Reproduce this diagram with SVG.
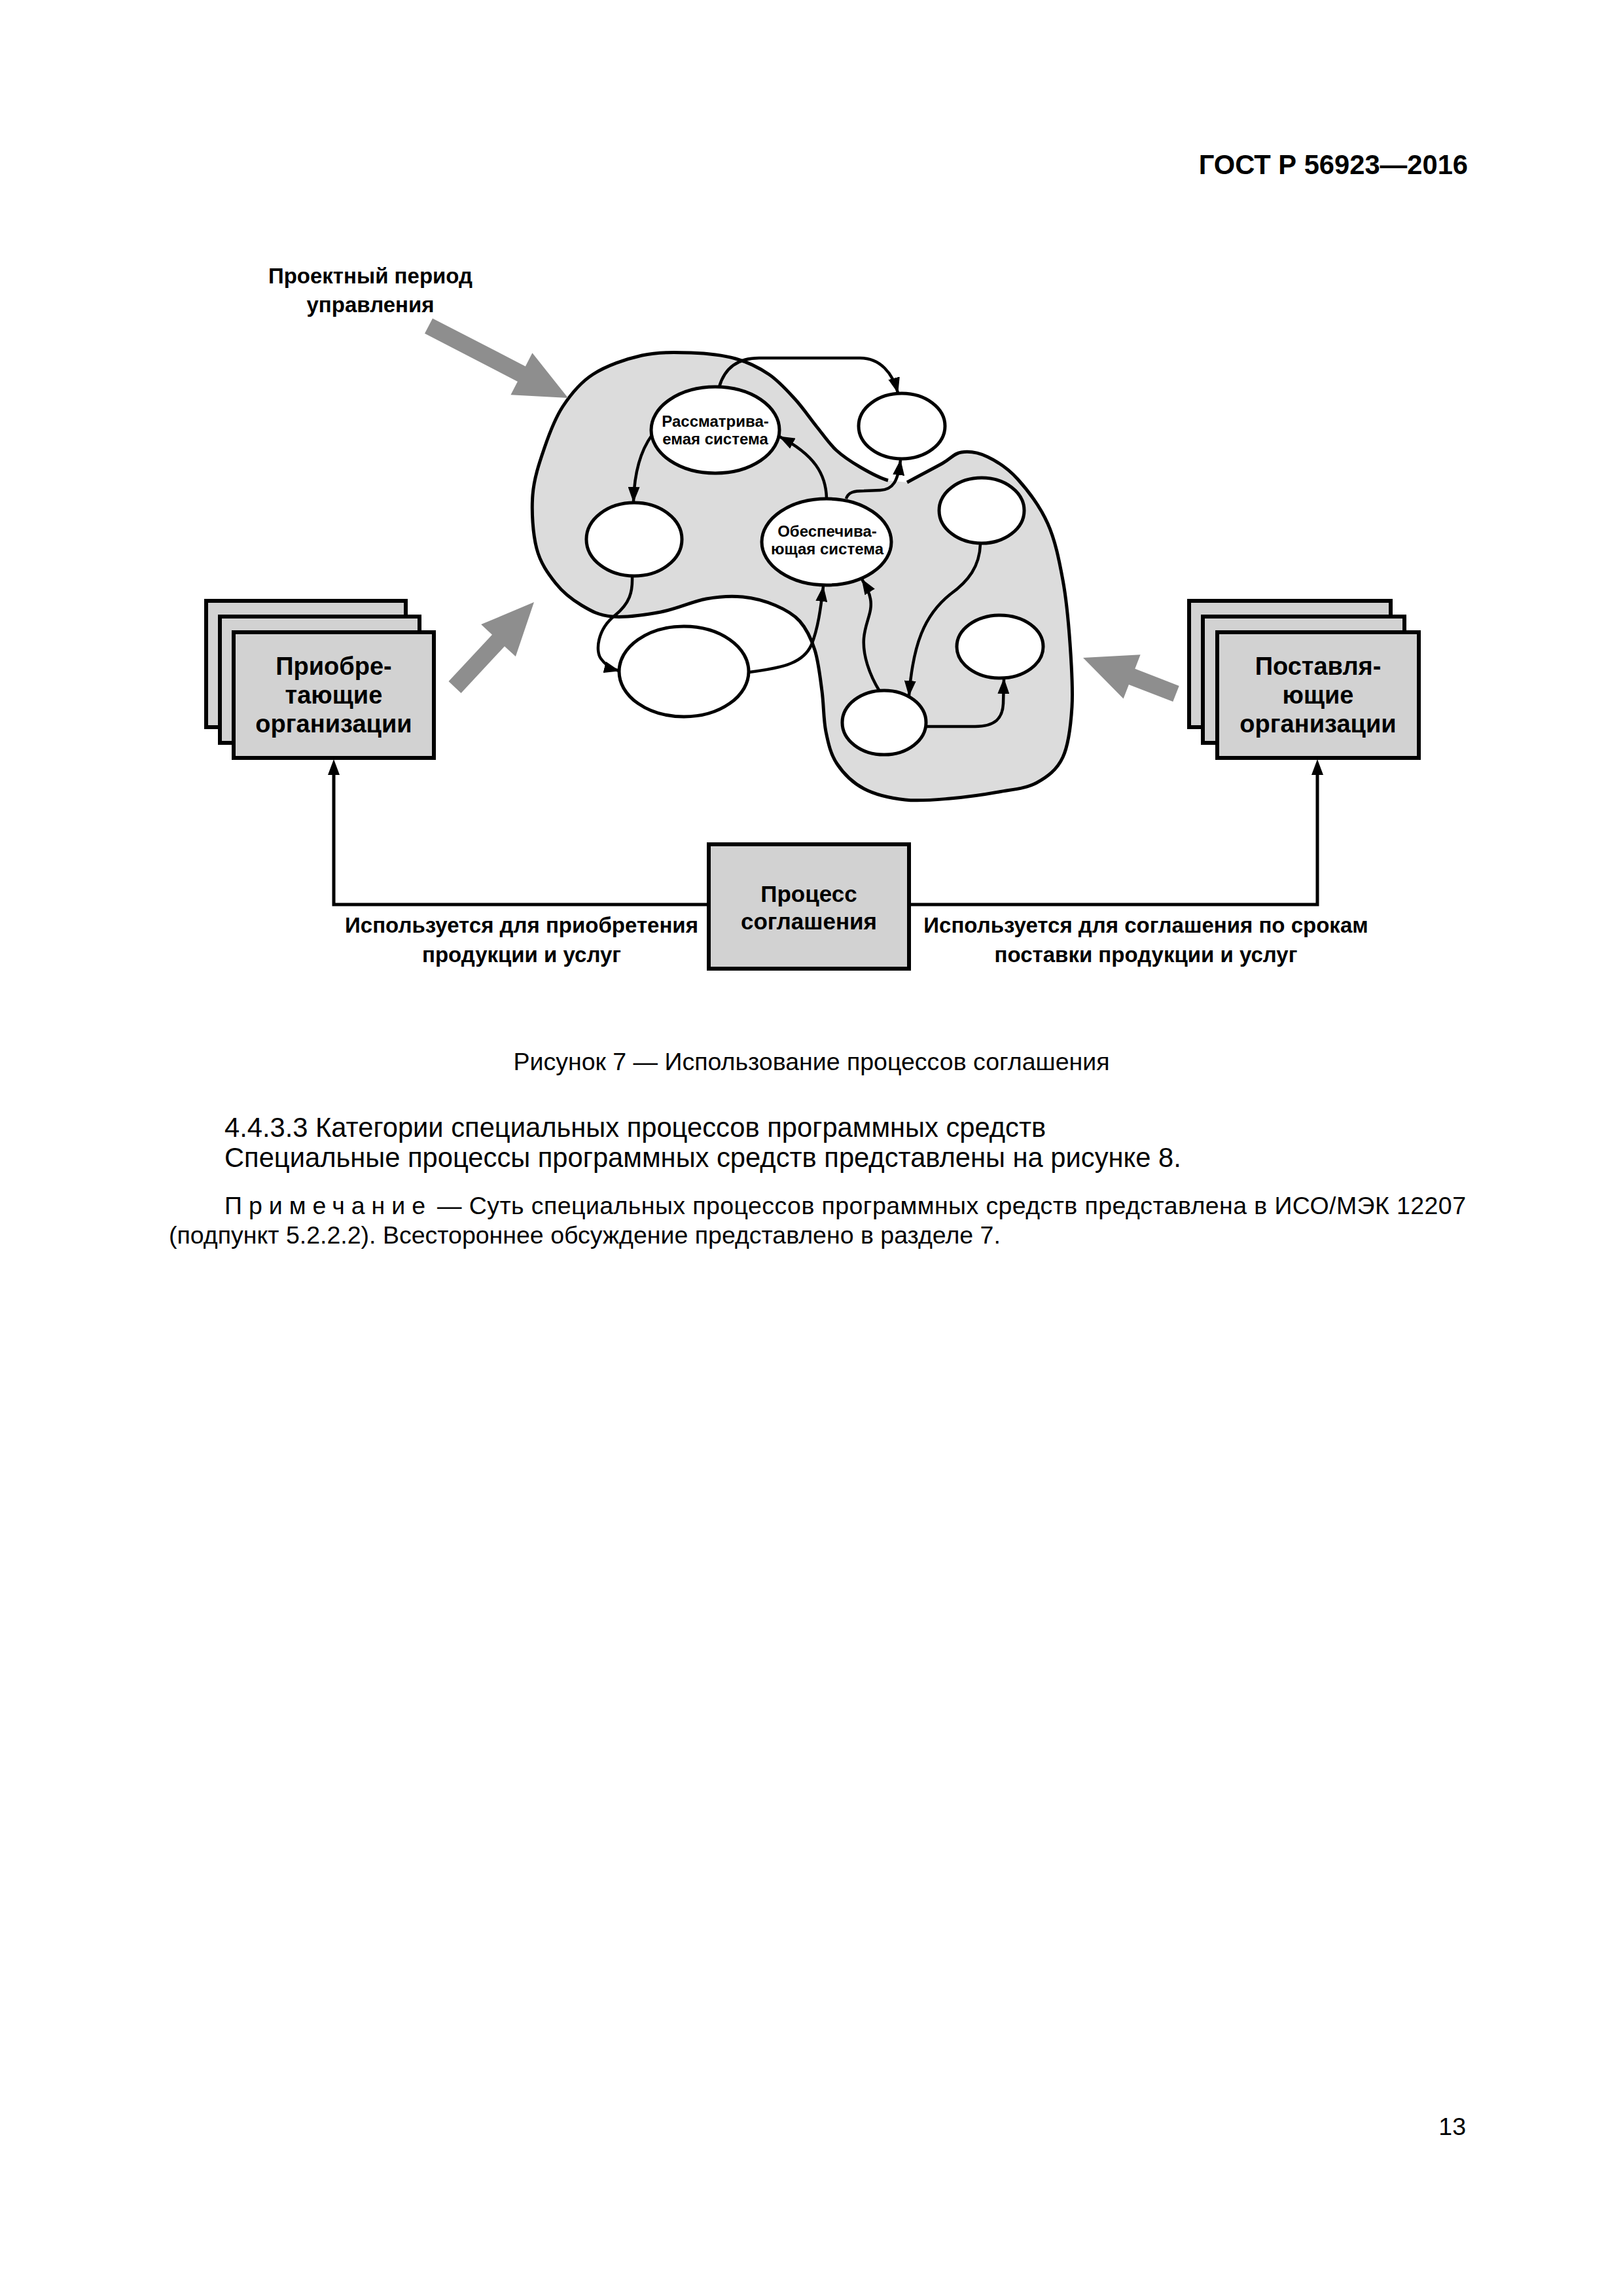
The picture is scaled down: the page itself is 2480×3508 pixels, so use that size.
<svg xmlns="http://www.w3.org/2000/svg" width="2480" height="3508" viewBox="0 0 2480 3508">
<defs>
<style>
text{font-family:"Liberation Sans",Arial,sans-serif;fill:#000}
.b{font-weight:bold}
.node{fill:#fff;stroke:#000;stroke-width:5}
.org{fill:#d2d2d2;stroke:#000;stroke-width:6}
.con{fill:none;stroke:#000;stroke-width:4.5}
.big{fill:#8e8e8e;stroke:none}
.line{fill:none;stroke:#000;stroke-width:5}
</style>
<marker id="ah" markerUnits="userSpaceOnUse" markerWidth="24" markerHeight="18" viewBox="0 0 24 18" refX="23" refY="9" orient="auto">
<path d="M0,0 L24,9 L0,18 z" fill="#000"/>
</marker>
</defs>
<rect width="2480" height="3508" fill="#fff"/>

<text class="b" x="2243" y="266" font-size="41.7" text-anchor="end">ГОСТ Р 56923—2016</text>

<g id="label-period">
<text class="b" x="566" y="433" font-size="33" text-anchor="middle">Проектный период</text>
<text class="b" x="566" y="477" font-size="33" text-anchor="middle">управления</text>
</g>

<g id="blob">
<path d="M1386,737 C1404,727 1426.2,715.7 1440,708 S1457.5,692.7 1469,691 S1494.7,691.2 1509,698 S1539.7,715 1555,732 S1589.5,774.3 1601,800 S1618.3,855.5 1624,886 S1632.7,950.7 1635,983 S1639.8,1051 1638,1080 S1633,1137.7 1624,1157 S1600.3,1187.2 1584,1196 S1548,1206 1526,1210 S1475.8,1218 1452,1220 S1405,1224.5 1383,1222 S1337.3,1214.2 1320,1205 S1288.7,1181.5 1279,1167 S1265.8,1136.5 1262,1118 S1258.8,1076.8 1256,1056 S1250.7,1010.8 1245,993 S1232,960.3 1222,949 S1199.5,931.2 1185,925 S1152.7,913.7 1135,912 S1099.8,911.2 1079,915 S1034,930.5 1010,935 S955.2,943.7 935,942 S903.3,933.5 889,925 S860.5,905.5 849,891 S825.8,860.5 820,838 S812,781.7 814,756 S824.3,706.5 832,684 S847.7,639.7 860,621 S885.8,585 906,572 S956,548.5 981,543 S1032.2,538.2 1056,539 S1104.2,542.5 1124,548 S1159.8,561.7 1175,572 S1202.8,596.7 1215,610 S1237.5,639 1248,652 S1266.8,677.7 1278,688 S1301.8,706.3 1315,714 S1343,730 1357,734 Z" fill="#dcdcdc" stroke="none"/>
<path d="M1386,737 C1404,727 1426.2,715.7 1440,708 S1457.5,692.7 1469,691 S1494.7,691.2 1509,698 S1539.7,715 1555,732 S1589.5,774.3 1601,800 S1618.3,855.5 1624,886 S1632.7,950.7 1635,983 S1639.8,1051 1638,1080 S1633,1137.7 1624,1157 S1600.3,1187.2 1584,1196 S1548,1206 1526,1210 S1475.8,1218 1452,1220 S1405,1224.5 1383,1222 S1337.3,1214.2 1320,1205 S1288.7,1181.5 1279,1167 S1265.8,1136.5 1262,1118 S1258.8,1076.8 1256,1056 S1250.7,1010.8 1245,993 S1232,960.3 1222,949 S1199.5,931.2 1185,925 S1152.7,913.7 1135,912 S1099.8,911.2 1079,915 S1034,930.5 1010,935 S955.2,943.7 935,942 S903.3,933.5 889,925 S860.5,905.5 849,891 S825.8,860.5 820,838 S812,781.7 814,756 S824.3,706.5 832,684 S847.7,639.7 860,621 S885.8,585 906,572 S956,548.5 981,543 S1032.2,538.2 1056,539 S1104.2,542.5 1124,548 S1159.8,561.7 1175,572 S1202.8,596.7 1215,610 S1237.5,639 1248,652 S1266.8,677.7 1278,688 S1301.8,706.3 1315,714 S1343,730 1357,734" fill="none" stroke="#000" stroke-width="5"/>
</g>

<g id="big-arrows">
<polygon class="big" points="649,509.6 790.9,582.9 780.4,603.3 868,608 813.4,539.3 802.9,559.7 661,486.4"/>
<polygon class="big" points="704.5,1058.9 771,987.5 787.9,1003.1 816,920 735.1,954.1 752,969.7 685.5,1041.1"/>
<polygon class="big" points="1801.7,1047.9 1734.3,1021.8 1742.6,1000.3 1655,1005 1716.6,1067.5 1724.9,1046 1792.3,1072.1"/>
</g>

<g id="connectors">
<path class="con" d="M1099,591 C1108,560 1130,547 1160,547 L1314,547 C1345,547 1364,570 1372,600" marker-end="url(#ah)"/>
<path class="con" d="M996,665 C978,690 969,725 968,767" marker-end="url(#ah)"/>
<path class="con" d="M1263,761 C1262,725 1245,695 1191,667" marker-end="url(#ah)"/>
<path class="con" d="M1293,762 C1296,752 1305,750 1320,750 L1345,749 C1365,748 1372,735 1376,703" marker-end="url(#ah)"/>
<path class="con" d="M966,880 C967,905 962,922 940,940 C912,962 910,995 918,1006 C925,1016 934,1022 946,1025" marker-end="url(#ah)"/>
<path class="con" d="M1145,1027 C1200,1020 1228,1012 1240,985 C1250,960 1254,930 1258,896" marker-end="url(#ah)"/>
<path class="con" d="M1344,1056 C1328,1030 1318,1000 1320,975 C1322,950 1334,935 1330,915 C1328,903 1322,893 1317,885" marker-end="url(#ah)"/>
<path class="con" d="M1498,831 C1497,865 1480,888 1452,908 C1412,940 1395,985 1389,1063" marker-end="url(#ah)"/>
<path class="con" d="M1416,1110 L1490,1110 C1520,1110 1532,1098 1533,1075 L1534,1037" marker-end="url(#ah)"/>
<path class="line" d="M1080,1382 L510,1382 L510,1180"/>
<path class="line" d="M1390,1382 L2013,1382 L2013,1180"/>
<polygon points="510,1160 501,1184 519,1184" fill="#000"/>
<polygon points="2013,1160 2004,1184 2022,1184" fill="#000"/>
</g>

<g id="node-considered">
<ellipse class="node" cx="1093" cy="657" rx="98" ry="66"/>
<text class="b" x="1093" y="652" font-size="24" text-anchor="middle">Рассматрива-</text>
<text class="b" x="1093" y="679" font-size="24" text-anchor="middle">емая система</text>
</g>
<g id="node-topright"><ellipse class="node" cx="1378" cy="651" rx="66" ry="50"/></g>
<g id="node-left"><ellipse class="node" cx="969" cy="824" rx="73" ry="56"/></g>
<g id="node-enabling">
<ellipse class="node" cx="1263" cy="828" rx="99" ry="66"/>
<text class="b" x="1264" y="820" font-size="24" text-anchor="middle">Обеспечива-</text>
<text class="b" x="1264" y="847" font-size="24" text-anchor="middle">ющая система</text>
</g>
<g id="node-rightupper"><ellipse class="node" cx="1500" cy="780" rx="65" ry="50"/></g>
<g id="node-bottomleft"><ellipse class="node" cx="1045" cy="1026" rx="99" ry="69"/></g>
<g id="node-rightlower"><ellipse class="node" cx="1528" cy="988" rx="66" ry="48"/></g>
<g id="node-bottom"><ellipse class="node" cx="1351" cy="1104" rx="64" ry="49"/></g>

<g id="acquirers">
<rect class="org" x="315" y="918" width="305" height="193"/>
<rect class="org" x="336" y="942" width="305" height="193"/>
<rect class="org" x="357" y="966" width="306" height="192"/>
<text class="b" x="510" y="1031" font-size="38" text-anchor="middle">Приобре-</text>
<text class="b" x="510" y="1075" font-size="38" text-anchor="middle">тающие</text>
<text class="b" x="510" y="1119" font-size="38" text-anchor="middle">организации</text>
</g>

<g id="suppliers">
<rect class="org" x="1817" y="918" width="308" height="193"/>
<rect class="org" x="1838" y="942" width="308" height="193"/>
<rect class="org" x="1860" y="966" width="308" height="192"/>
<text class="b" x="2014" y="1031" font-size="38" text-anchor="middle">Поставля-</text>
<text class="b" x="2014" y="1075" font-size="38" text-anchor="middle">ющие</text>
<text class="b" x="2014" y="1119" font-size="38" text-anchor="middle">организации</text>
</g>

<g id="agreement">
<rect class="org" x="1083" y="1290" width="306" height="190"/>
<text class="b" x="1236" y="1378" font-size="35" text-anchor="middle">Процесс</text>
<text class="b" x="1236" y="1420" font-size="35" text-anchor="middle">соглашения</text>
</g>

<g id="labels">
<text class="b" x="797" y="1425" font-size="33" text-anchor="middle">Используется для приобретения</text>
<text class="b" x="797" y="1470" font-size="33" text-anchor="middle">продукции и услуг</text>
<text class="b" x="1751" y="1425" font-size="33" text-anchor="middle">Используется для соглашения по срокам</text>
<text class="b" x="1751" y="1470" font-size="33" text-anchor="middle">поставки продукции и услуг</text>
</g>

<text x="1240" y="1635" font-size="37.5" text-anchor="middle">Рисунок 7 — Использование процессов соглашения</text>
<text x="343" y="1737" font-size="41.7">4.4.3.3 Категории специальных процессов программных средств</text>
<text x="343" y="1783" font-size="41.7">Специальные процессы программных средств представлены на рисунке 8.</text>
<text x="343" y="1855" font-size="37.5" letter-spacing="10">Примечание</text>
<text x="668" y="1855" font-size="37.5" textLength="1572" lengthAdjust="spacing">— Суть специальных процессов программных средств представлена в ИСО/МЭК 12207</text>
<text x="258" y="1900" font-size="37.5">(подпункт 5.2.2.2). Всестороннее обсуждение представлено в разделе 7.</text>

<text x="2240" y="3262" font-size="37.5" text-anchor="end">13</text>
</svg>
